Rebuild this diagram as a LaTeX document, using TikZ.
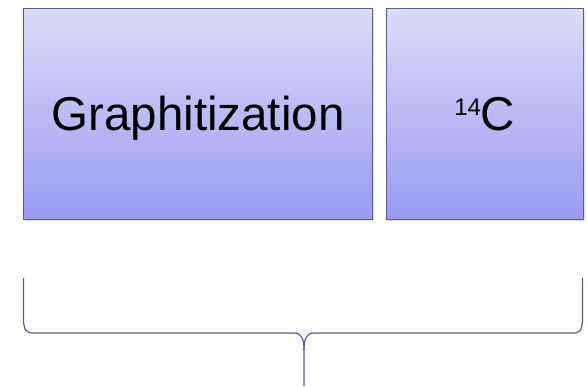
\documentclass[tikz,border=0pt]{standalone}
\usepackage{fontspec}
\setmainfont{Liberation Sans}
\usetikzlibrary{shadows}
\definecolor{boxtop}{HTML}{DCDCFA}
\definecolor{boxbot}{HTML}{9A9AF0}
\definecolor{boxline}{HTML}{5C5C8C}
\definecolor{braceline}{HTML}{5A5A9A}
\begin{document}
\begin{tikzpicture}[x=1pt,y=-1pt,
  panel/.style={draw=boxline, line width=1pt, top color=boxtop, bottom color=boxbot,
    drop shadow={shadow xshift=1.5pt, shadow yshift=-2pt, opacity=0.25},
    inner sep=0pt, font=\fontsize{47.5}{50}\selectfont, text height=34pt, text depth=0pt},
  bracepath/.style={draw=braceline, line width=1.2pt}]
\useasboundingbox (0,0) rectangle (588,386);
\fill[white] (0,0) rectangle (588,386);
\node[panel, minimum width=349pt, minimum height=211pt, anchor=north west] (g) at (23,7.5) {Graphitization};
\node[panel, minimum width=197.5pt, minimum height=211pt, anchor=north west] (c) at (385.5,7.5) {\raisebox{15pt}{\fontsize{24}{26}\selectfont 14}C};
\coordinate (bl) at (23.5,278);
\coordinate (br) at (582.5,278);
\coordinate (tip) at (304,386);
\draw[bracepath] (bl) -- (23.5,320) .. controls (24,330) and (26,333) .. (33,333)
  -- (294,333) .. controls (301,333) and (304,338) .. (304,350) -- (tip);
\draw[bracepath] (br) -- (582.5,320) .. controls (582,330) and (580,333) .. (573,333)
  -- (314,333) .. controls (307,333) and (304,338) .. (304,350);
\end{tikzpicture}
\end{document}
